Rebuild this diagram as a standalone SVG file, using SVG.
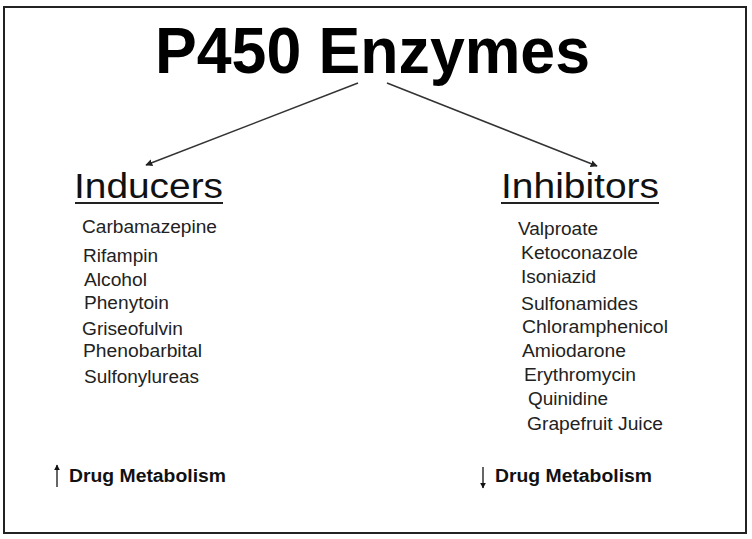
<svg xmlns="http://www.w3.org/2000/svg" width="752" height="539" viewBox="0 0 752 539">
<style>
  .title { font-family: "Liberation Sans", Arial, sans-serif; font-size: 64px; font-weight: bold; fill: #000; }
  .head { font-family: "Liberation Sans", Arial, sans-serif; font-size: 35px; fill: #111; }
  .item { font-family: "Liberation Sans", Arial, sans-serif; font-size: 17.5px; fill: #222; }
  .foot { font-family: "Liberation Sans", Arial, sans-serif; font-size: 17.5px; font-weight: bold; fill: #111; }
  .conn { stroke: #333; stroke-width: 1.5; fill: none; }
  .uline { stroke: #222; stroke-width: 2; }
</style>
<defs>
  <marker id="ah" viewBox="0 0 10 10" refX="9" refY="5" markerWidth="7" markerHeight="7" markerUnits="userSpaceOnUse" orient="auto">
    <path d="M0,0 L10,5 L0,10 z" fill="#222"/>
  </marker>
  <marker id="ahs" viewBox="0 0 10 10" refX="9" refY="5" markerWidth="6" markerHeight="6" markerUnits="userSpaceOnUse" orient="auto">
    <path d="M0,0 L10,5 L0,10 z" fill="#111"/>
  </marker>
</defs>
<rect x="0" y="0" width="752" height="539" fill="#fff"/>
<rect x="4" y="7" width="742" height="526" fill="#fff" stroke="#222" stroke-width="2"/>

<g id="title">
  <text class="title" x="155" y="73" textLength="435" lengthAdjust="spacingAndGlyphs">P450 Enzymes</text>
</g>

<g id="connectors">
  <line class="conn" x1="358" y1="83" x2="146" y2="165" marker-end="url(#ah)"/>
  <line class="conn" x1="387" y1="83" x2="597" y2="166" marker-end="url(#ah)"/>
</g>

<g id="inducers">
  <text class="head" x="74" y="198" textLength="149" lengthAdjust="spacingAndGlyphs">Inducers</text>
  <line class="uline" x1="75" y1="203" x2="223" y2="203"/>
  <text class="item" x="82" y="233" textLength="135" lengthAdjust="spacingAndGlyphs">Carbamazepine</text>
  <text class="item" x="83" y="262" textLength="75" lengthAdjust="spacingAndGlyphs">Rifampin</text>
  <text class="item" x="84" y="286" textLength="63" lengthAdjust="spacingAndGlyphs">Alcohol</text>
  <text class="item" x="84" y="309" textLength="85" lengthAdjust="spacingAndGlyphs">Phenytoin</text>
  <text class="item" x="82" y="335" textLength="101" lengthAdjust="spacingAndGlyphs">Griseofulvin</text>
  <text class="item" x="83" y="357" textLength="119" lengthAdjust="spacingAndGlyphs">Phenobarbital</text>
  <text class="item" x="84" y="383" textLength="115" lengthAdjust="spacingAndGlyphs">Sulfonylureas</text>
</g>

<g id="inhibitors">
  <text class="head" x="501" y="198" textLength="158" lengthAdjust="spacingAndGlyphs">Inhibitors</text>
  <line class="uline" x1="501" y1="203" x2="659" y2="203"/>
  <text class="item" x="518" y="235" textLength="80" lengthAdjust="spacingAndGlyphs">Valproate</text>
  <text class="item" x="521" y="259" textLength="117" lengthAdjust="spacingAndGlyphs">Ketoconazole</text>
  <text class="item" x="521" y="283" textLength="75" lengthAdjust="spacingAndGlyphs">Isoniazid</text>
  <text class="item" x="521" y="310" textLength="117" lengthAdjust="spacingAndGlyphs">Sulfonamides</text>
  <text class="item" x="522" y="333" textLength="146" lengthAdjust="spacingAndGlyphs">Chloramphenicol</text>
  <text class="item" x="522" y="357" textLength="104" lengthAdjust="spacingAndGlyphs">Amiodarone</text>
  <text class="item" x="524" y="381" textLength="112" lengthAdjust="spacingAndGlyphs">Erythromycin</text>
  <text class="item" x="528" y="405" textLength="80" lengthAdjust="spacingAndGlyphs">Quinidine</text>
  <text class="item" x="527" y="430" textLength="136" lengthAdjust="spacingAndGlyphs">Grapefruit Juice</text>
</g>

<g id="inducer-effect">
  <line class="conn" x1="57" y1="487" x2="57" y2="465" marker-end="url(#ahs)" stroke="#111"/>
  <text class="foot" x="69" y="482" textLength="157" lengthAdjust="spacingAndGlyphs">Drug Metabolism</text>
</g>

<g id="inhibitor-effect">
  <line class="conn" x1="483" y1="467" x2="483" y2="488" marker-end="url(#ahs)" stroke="#111"/>
  <text class="foot" x="495" y="482" textLength="157" lengthAdjust="spacingAndGlyphs">Drug Metabolism</text>
</g>
</svg>
